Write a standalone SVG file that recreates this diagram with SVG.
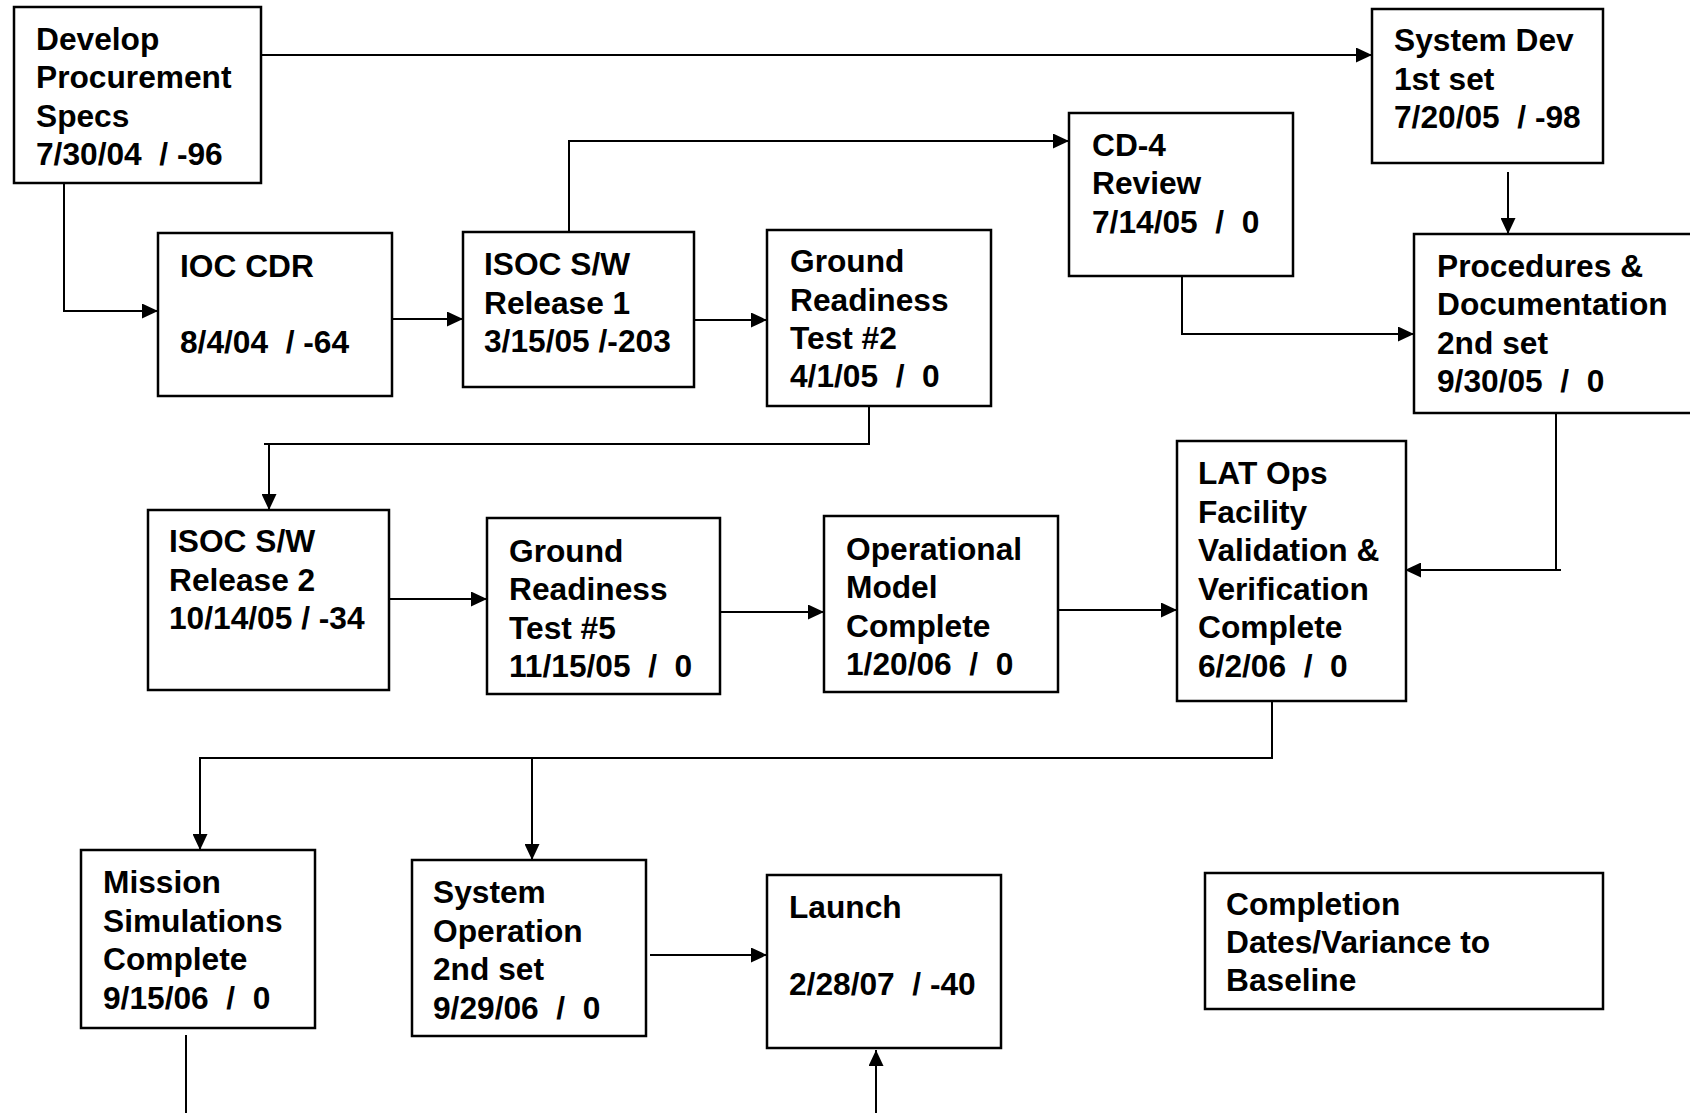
<svg xmlns="http://www.w3.org/2000/svg" width="1690" height="1113" viewBox="0 0 1690 1113">
<defs>
<marker id="ah" markerWidth="16" markerHeight="15" refX="16" refY="7.5" orient="auto" markerUnits="userSpaceOnUse">
<path d="M0,0 L16,7.5 L0,15 z" fill="#000"/>
</marker>
<style>
.box{fill:#fff;stroke:#000;stroke-width:2.5}
.t{font-family:"Liberation Sans",Arial,sans-serif;font-weight:bold;font-size:31.7px;fill:#000}
.c{fill:none;stroke:#000;stroke-width:2}
.a{marker-end:url(#ah)}
</style>
</defs>
<rect width="1690" height="1113" fill="#fff"/>
<g id="connectors">
<polyline class="c a" points="261,55 1372,55"/>
<polyline class="c a" points="64,183 64,311 158,311"/>
<polyline class="c a" points="392,319 463,319"/>
<polyline class="c a" points="569,232 569,141 1069,141"/>
<polyline class="c a" points="694,320 767,320"/>
<polyline class="c a" points="1508,172 1508,234"/>
<polyline class="c a" points="1182,274 1182,334 1414,334"/>
<polyline class="c" points="869,400 869,444 264,444"/>
<polyline class="c a" points="269,444 269,510"/>
<polyline class="c" points="1556,413 1556,570 1561,570"/>
<polyline class="c a" points="1556,570 1405,570"/>
<polyline class="c a" points="389,599 487,599"/>
<polyline class="c a" points="720,612 824,612"/>
<polyline class="c a" points="1058,610 1177,610"/>
<polyline class="c a" points="1272,701 1272,758 200,758 200,850"/>
<polyline class="c a" points="532,758 532,860"/>
<polyline class="c" points="186,1035 186,1113"/>
<polyline class="c a" points="650,955 767,955"/>
<polyline class="c a" points="876,1113 876,1050"/>
</g>
<g id="n1"><rect class="box" x="14" y="7" width="247" height="176"/>
<text class="t" x="36" y="50">Develop</text><text class="t" x="36" y="88">Procurement</text><text class="t" x="36" y="127">Specs</text><text class="t" x="36" y="165" xml:space="preserve">7/30/04  / -96</text></g>
<g id="n2"><rect class="box" x="1372" y="9" width="231" height="154"/>
<text class="t" x="1394" y="51">System Dev</text><text class="t" x="1394" y="90">1st set</text><text class="t" x="1394" y="128" xml:space="preserve">7/20/05  / -98</text></g>
<g id="n3"><rect class="box" x="1069" y="113" width="224" height="163"/>
<text class="t" x="1092" y="156">CD-4</text><text class="t" x="1092" y="194">Review</text><text class="t" x="1092" y="233" xml:space="preserve">7/14/05  /  0</text></g>
<g id="n4"><rect class="box" x="158" y="233" width="234" height="163"/>
<text class="t" x="180" y="277">IOC CDR</text><text class="t" x="180" y="353" xml:space="preserve">8/4/04  / -64</text></g>
<g id="n5"><rect class="box" x="463" y="232" width="231" height="155"/>
<text class="t" x="484" y="275">ISOC S/W</text><text class="t" x="484" y="314">Release 1</text><text class="t" x="484" y="352">3/15/05 /-203</text></g>
<g id="n6"><rect class="box" x="767" y="230" width="224" height="176"/>
<text class="t" x="790" y="272">Ground</text><text class="t" x="790" y="311">Readiness</text><text class="t" x="790" y="349">Test #2</text><text class="t" x="790" y="387" xml:space="preserve">4/1/05  /  0</text></g>
<g id="n7"><rect class="box" x="1414" y="234" width="300" height="179"/>
<text class="t" x="1437" y="277">Procedures &amp;</text><text class="t" x="1437" y="315">Documentation</text><text class="t" x="1437" y="354">2nd set</text><text class="t" x="1437" y="392" xml:space="preserve">9/30/05  /  0</text></g>
<g id="n8"><rect class="box" x="148" y="510" width="241" height="180"/>
<text class="t" x="169" y="552">ISOC S/W</text><text class="t" x="169" y="591">Release 2</text><text class="t" x="169" y="629">10/14/05 / -34</text></g>
<g id="n9"><rect class="box" x="487" y="518" width="233" height="176"/>
<text class="t" x="509" y="562">Ground</text><text class="t" x="509" y="600">Readiness</text><text class="t" x="509" y="639">Test #5</text><text class="t" x="509" y="677" xml:space="preserve">11/15/05  /  0</text></g>
<g id="n10"><rect class="box" x="824" y="516" width="234" height="176"/>
<text class="t" x="846" y="560">Operational</text><text class="t" x="846" y="598">Model</text><text class="t" x="846" y="637">Complete</text><text class="t" x="846" y="675" xml:space="preserve">1/20/06  /  0</text></g>
<g id="n11"><rect class="box" x="1177" y="441" width="229" height="260"/>
<text class="t" x="1198" y="484">LAT Ops</text><text class="t" x="1198" y="523">Facility</text><text class="t" x="1198" y="561">Validation &amp;</text><text class="t" x="1198" y="600">Verification</text><text class="t" x="1198" y="638">Complete</text><text class="t" x="1198" y="677" xml:space="preserve">6/2/06  /  0</text></g>
<g id="n12"><rect class="box" x="81" y="850" width="234" height="178"/>
<text class="t" x="103" y="893">Mission</text><text class="t" x="103" y="932">Simulations</text><text class="t" x="103" y="970">Complete</text><text class="t" x="103" y="1009" xml:space="preserve">9/15/06  /  0</text></g>
<g id="n13"><rect class="box" x="412" y="860" width="234" height="176"/>
<text class="t" x="433" y="903">System</text><text class="t" x="433" y="942">Operation</text><text class="t" x="433" y="980">2nd set</text><text class="t" x="433" y="1019" xml:space="preserve">9/29/06  /  0</text></g>
<g id="n14"><rect class="box" x="767" y="875" width="234" height="173"/>
<text class="t" x="789" y="918">Launch</text><text class="t" x="789" y="995" xml:space="preserve">2/28/07  / -40</text></g>
<g id="n15"><rect class="box" x="1205" y="873" width="398" height="136"/>
<text class="t" x="1226" y="915">Completion</text><text class="t" x="1226" y="953">Dates/Variance to</text><text class="t" x="1226" y="991">Baseline</text></g>
</svg>
